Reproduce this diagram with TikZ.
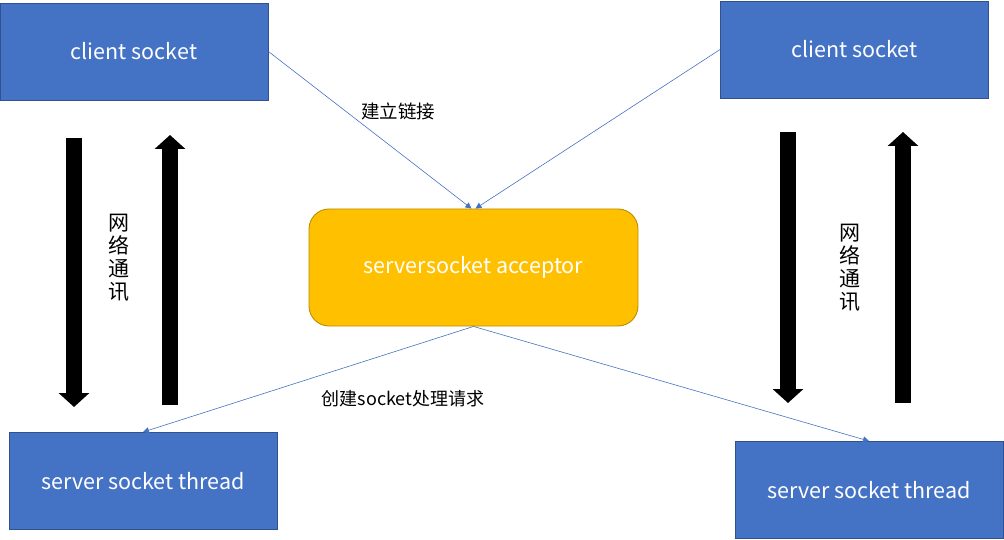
\documentclass[tikz,border=0pt]{standalone}
\usepackage{fontspec}
\setmainfont{Noto Sans CJK SC}
\usetikzlibrary{arrows.meta}
\definecolor{boxblue}{HTML}{4472C4}
\definecolor{boxline}{HTML}{2F528F}
\definecolor{accfill}{HTML}{FFC000}
\definecolor{accline}{HTML}{BC8C00}

\begin{document}
\begin{tikzpicture}[x=1pt,y=-1pt,>=stealth,
    sockbox/.style={draw=boxline,fill=boxblue,text=white,line width=0.9pt,
      minimum width=268pt,minimum height=97pt,inner sep=0pt,
      font=\fontsize{21.5}{24}\selectfont},
    link/.style={draw=boxblue,line width=0.6pt,-{Triangle[length=6pt,width=6pt]}},
    fat/.style={line width=16pt,-{Triangle[length=14pt,width=30pt]}},
    vlabel/.style={align=center,inner sep=0pt,font=\fontsize{21}{23}\selectfont}]
    \useasboundingbox (0,0) rectangle (1004,540);
    \node[sockbox] (cl) at (134,51.5) {client socket};
    \node[sockbox] (cr) at (854.5,49.5) {client socket};
    \node[draw=accline,fill=accfill,text=white,line width=0.9pt,rounded corners=20pt,
      minimum width=329pt,minimum height=117pt,inner sep=0pt,
      font=\fontsize{21.5}{24}\selectfont] (acc) at (473.5,267.5) {serversocket acceptor};
    \node[sockbox] (tl) at (143,481) {server socket thread};
    \node[sockbox] (tr) at (869,490) {server socket thread};
    %
    \draw[link] (cl.east) -- ([xshift=-2pt]acc.north);
    \draw[link] (cr.west) -- ([xshift=2pt]acc.north);
    \draw[link] (acc.south) -- (tl.north);
    \draw[link] (acc.south) -- (tr.north);
    \node[font=\fontsize{18.5}{20}\selectfont] (up) at (398,111) {建立链接};
    \node[font=\fontsize{18}{20}\selectfont] (down) at (403,399) {创建socket处理请求};
    %
    \draw[fat] (74,138) -- (74,407);
    \draw[fat] (170,405) -- (170,135);
    \draw[fat] (788,132) -- (788,403);
    \draw[fat] (903,403) -- (903,132);
    \node[vlabel] (netl) at (119,257.5) {网\\络\\通\\讯};
    \node[vlabel] (netr) at (850,267.5) {网\\络\\通\\讯};
  \end{tikzpicture}
\end{document}
